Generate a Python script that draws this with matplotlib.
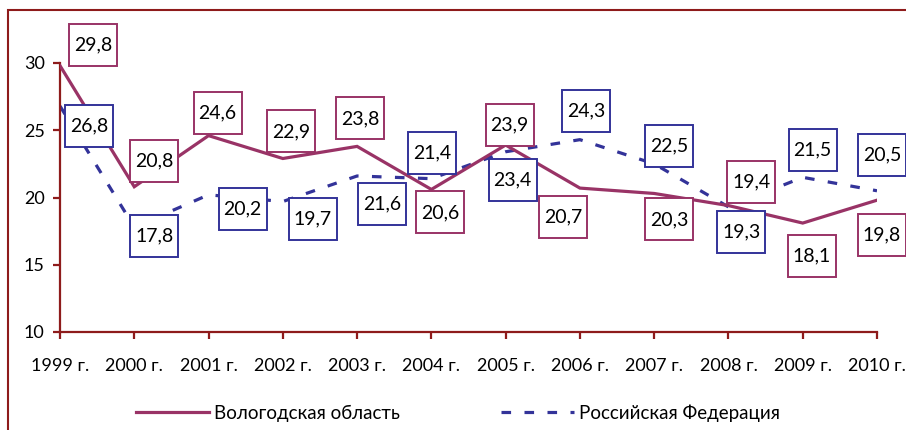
import matplotlib
matplotlib.use("Agg")
import matplotlib.pyplot as plt
import matplotlib.transforms as mtransforms
from matplotlib.patches import Rectangle

years = ["1999 г.", "2000 г.", "2001 г.", "2002 г.", "2003 г.", "2004 г.",
         "2005 г.", "2006 г.", "2007 г.", "2008 г.", "2009 г.", "2010 г."]
vologda = [29.8, 20.8, 24.6, 22.9, 23.8, 20.6, 23.9, 20.7, 20.3, 19.4, 18.1, 19.8]
russia = [26.8, 17.8, 20.2, 19.7, 21.6, 21.4, 23.4, 24.3, 22.5, 19.3, 21.5, 20.5]
series_names = ["Вологодская область", "Российская Федерация"]

# label box offsets in pixels (dx right, dy up) from each point
off_v = [(33, 21), (20, 26), (9, 23), (8, 27), (3, 28), (9, -23), (4, 20),
         (-17, -29), (15, -26), (23, 24), (9, -33), (5, -35)]
off_r = [(29, -20), (20, -9), (34, -14), (30, -17), (25, -28), (1, 26), (7, -28),
         (6, 29), (15, 18), (13, -25), (10, 27), (5, 36)]

plt.rcParams['font.family'] = ['Lato', 'DejaVu Sans']

W, H = 906, 430
fig = plt.figure(figsize=(W / 100, H / 100), dpi=100)
ax = fig.add_axes([60 / W, (H - 332) / H, (877 - 60) / W, (332 - 63) / H])

maroon = '#993366'
blue = '#333399'
axis_col = '#8E1B1B'

x = list(range(len(years)))
lv, = ax.plot(x, vologda, color=maroon, lw=2.3, solid_joinstyle='miter', zorder=3,
              label=series_names[0])
lr, = ax.plot(x, russia, color=blue, lw=2.3, dashes=(3.0, 4.2), zorder=2,
              label=series_names[1])

ax.set_xlim(0, len(years) - 1)
ax.set_ylim(10, 30)
ax.set_yticks([10, 15, 20, 25, 30])
ax.set_xticks(x)
ax.set_xticklabels(years)
for s in ['top', 'right']:
    ax.spines[s].set_visible(False)
for s in ['left', 'bottom']:
    ax.spines[s].set_color(axis_col)
    ax.spines[s].set_linewidth(1.6)
ax.tick_params(axis='both', colors=axis_col, length=5, width=1.6, labelcolor='black')
ax.tick_params(axis='y', labelsize=13, pad=6)
ax.tick_params(axis='x', labelsize=13, pad=14)

bw, bh = 48, 42


def add_labels(vals, offs, col):
    for i, (v, (dx, dy)) in enumerate(zip(vals, offs)):
        tr = mtransforms.IdentityTransform() + mtransforms.ScaledTranslation(i, v, ax.transData)
        r = Rectangle((dx - bw / 2, dy - bh / 2), bw, bh, transform=tr, facecolor='white',
                      edgecolor=col, lw=1.4, zorder=5, clip_on=False)
        ax.add_patch(r)
        ax.annotate(f"{v:.1f}".replace('.', ','), xy=(i, v), xytext=(dx, dy),
                    textcoords='offset pixels', ha='center', va='center',
                    fontsize=14, color='black', zorder=6, annotation_clip=False)


add_labels(vologda, off_v, maroon)
add_labels(russia, off_r, blue)

fig.legend(handles=[lv, lr], loc='center', bbox_to_anchor=(458 / W, 17 / H),
           ncol=2, frameon=False, fontsize=13.5, handlelength=3.9,
           handletextpad=0.25, columnspacing=5.4)

border = Rectangle((8 / W, -0.2), 1.2, 0.2 + (H - 10) / H, transform=fig.transFigure,
                   fill=False, edgecolor=axis_col, lw=1.5)
fig.add_artist(border)

fig.savefig("out.png", dpi=100)
